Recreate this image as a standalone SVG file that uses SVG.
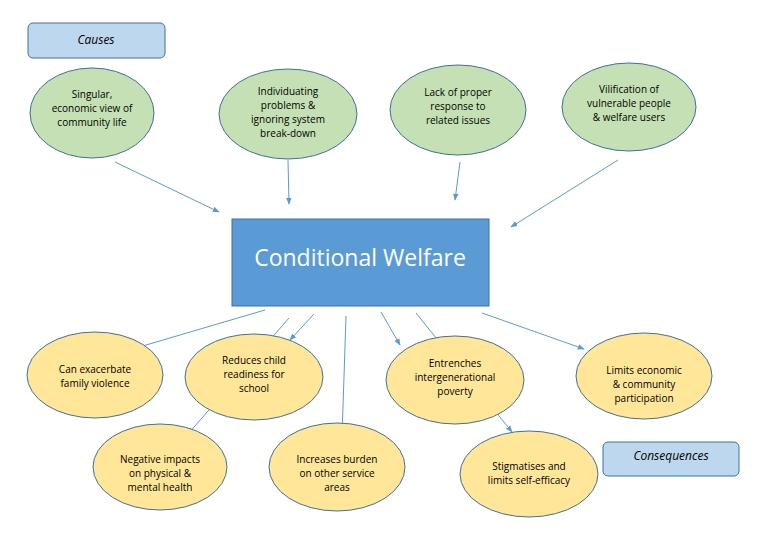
<svg xmlns="http://www.w3.org/2000/svg" width="760" height="534" viewBox="0 0 760 534">
<style>
text{font-family:"Open Sans","Liberation Sans",sans-serif;font-size:10px;fill:#000;text-anchor:middle}
.g{fill:#c5e0b4;stroke:#41719c;stroke-width:1}
.y{fill:#ffe699;stroke:#41719c;stroke-width:1}
.lab{fill:#bdd7ee;stroke:#41719c;stroke-width:1}
.c line{stroke:#5b9bd5;stroke-width:1}
.it{font-style:italic;font-size:12px}
</style>
<defs><marker id="a" viewBox="0 0 10 10" refX="9" refY="5" markerWidth="7" markerHeight="7" orient="auto"><path d="M0,1 L10,5 L0,9 z" fill="#5b9bd5"/></marker></defs>
<rect width="760" height="534" fill="#fff"/>
<g class="c">
<line x1="115" y1="162" x2="219" y2="212" marker-end="url(#a)"/>
<line x1="288" y1="160" x2="289" y2="204" marker-end="url(#a)"/>
<line x1="460" y1="162" x2="455" y2="200" marker-end="url(#a)"/>
<line x1="618" y1="160" x2="511" y2="227" marker-end="url(#a)"/>
<line x1="265" y1="310" x2="95" y2="360"/>
<line x1="289" y1="318" x2="188" y2="434" marker-end="url(#a)"/>
<line x1="314" y1="314" x2="290" y2="340" marker-end="url(#a)"/>
<line x1="346" y1="316" x2="342" y2="437" marker-end="url(#a)"/>
<line x1="381" y1="312" x2="400" y2="345" marker-end="url(#a)"/>
<line x1="416" y1="313" x2="512" y2="432" marker-end="url(#a)"/>
<line x1="482" y1="313" x2="584" y2="349" marker-end="url(#a)"/>
</g>
<g id="causes"><rect class="lab" x="28" y="23" width="137" height="35" rx="5"/><text class="it" x="96" y="44">Causes</text></g>
<g id="center"><rect x="232" y="219" width="257" height="87" fill="#5b9bd5" stroke="#41719c"/><text x="360" y="266" style="font-size:23px;fill:#fff">Conditional Welfare</text></g>
<g id="c1"><ellipse class="g" cx="92" cy="113" rx="62" ry="45"/><text x="92" y="98">Singular,</text><text x="92" y="112">economic view of</text><text x="92" y="126">community life</text></g>
<g id="c2"><ellipse class="g" cx="288" cy="114" rx="69" ry="45"/><text x="288" y="95">Individuating</text><text x="288" y="109">problems &amp;</text><text x="288" y="123">ignoring system</text><text x="288" y="137">break-down</text></g>
<g id="c3"><ellipse class="g" cx="458" cy="110" rx="68" ry="45"/><text x="458" y="96">Lack of proper</text><text x="458" y="110">response to</text><text x="458" y="124">related issues</text></g>
<g id="c4"><ellipse class="g" cx="629" cy="107" rx="67" ry="44"/><text x="629" y="93">Vilification of</text><text x="629" y="107">vulnerable people</text><text x="629" y="121">&amp; welfare users</text></g>
<g id="e1"><ellipse class="y" cx="95" cy="375" rx="68" ry="43"/><text x="95" y="373">Can exacerbate</text><text x="95" y="387">family violence</text></g>
<g id="e2"><ellipse class="y" cx="254" cy="377" rx="69" ry="43"/><text x="254" y="364">Reduces child</text><text x="254" y="378">readiness for</text><text x="254" y="392">school</text></g>
<g id="e3"><ellipse class="y" cx="160" cy="467" rx="67" ry="43"/><text x="160" y="463">Negative impacts</text><text x="160" y="477">on physical &amp;</text><text x="160" y="491">mental health</text></g>
<g id="e4"><ellipse class="y" cx="337" cy="467" rx="68" ry="44"/><text x="337" y="463">Increases burden</text><text x="337" y="477">on other service</text><text x="337" y="491">areas</text></g>
<g id="e5"><ellipse class="y" cx="455" cy="380" rx="69" ry="44"/><text x="455" y="367">Entrenches</text><text x="455" y="381">intergenerational</text><text x="455" y="395">poverty</text></g>
<g id="e6"><ellipse class="y" cx="529" cy="474" rx="69" ry="43"/><text x="529" y="470">Stigmatises and</text><text x="529" y="484">limits self-efficacy</text></g>
<g id="e7"><ellipse class="y" cx="644" cy="376" rx="68" ry="43"/><text x="644" y="374">Limits economic</text><text x="644" y="388">&amp; community</text><text x="644" y="402">participation</text></g>
<g id="cons"><rect class="lab" x="603" y="442" width="136" height="34" rx="5"/><text class="it" x="671" y="460">Consequences</text></g>
</svg>
